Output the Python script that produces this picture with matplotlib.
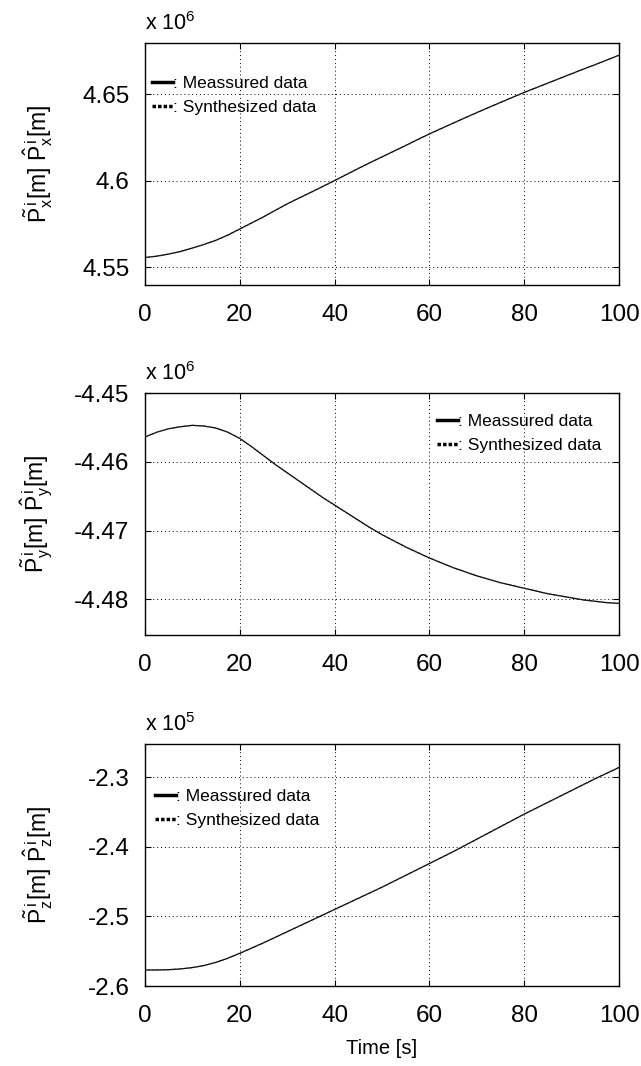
import numpy as np
import matplotlib
matplotlib.use("Agg")
import matplotlib.pyplot as plt
from matplotlib.lines import Line2D
from matplotlib.ticker import FuncFormatter

plt.rcParams['font.family'] = ['Liberation Sans', 'DejaVu Sans']
plt.rcParams['mathtext.fontset'] = 'custom'
plt.rcParams['mathtext.rm'] = 'Liberation Sans'
plt.rcParams['mathtext.it'] = 'Liberation Sans'
plt.rcParams['mathtext.default'] = 'regular'
plt.rcParams['axes.unicode_minus'] = False

# ---- data (values in units of the shown multiplier) ----
time_s = [0, 2.5, 5, 7.5, 10, 12.5, 15, 17.5, 20, 22.5, 25, 27.5, 30, 32.5, 35, 37.5, 40,
          42.5, 45, 47.5, 50, 52.5, 55, 57.5, 60, 62.5, 65, 67.5, 70, 72.5, 75, 77.5, 80,
          82.5, 85, 87.5, 90, 92.5, 95, 97.5, 100]

px_measured = [4.5555, 4.5563, 4.5575, 4.5590, 4.5610, 4.5631, 4.5655, 4.5685, 4.5720, 4.5755,
               4.5790, 4.5828, 4.5865, 4.5899, 4.5932, 4.5966, 4.6000, 4.6035, 4.6070, 4.6104,
               4.6137, 4.6170, 4.6203, 4.6237, 4.6270, 4.6301, 4.6332, 4.6363, 4.6393, 4.6423,
               4.6452, 4.6481, 4.6510, 4.6537, 4.6564, 4.6591, 4.6618, 4.6645, 4.6671, 4.6698, 4.6725]
px_synth = list(px_measured)

py_measured = [-4.4564, -4.4557, -4.4552, -4.4549, -4.4547, -4.4548, -4.4551, -4.4557, -4.4566, -4.4578,
               -4.4591, -4.4604, -4.4616, -4.4628, -4.4640, -4.4652, -4.4663, -4.4674, -4.4685, -4.4696,
               -4.4706, -4.4715, -4.4724, -4.4732, -4.4740, -4.4747, -4.4754, -4.4760, -4.4766, -4.4771,
               -4.4776, -4.4780, -4.4784, -4.4788, -4.4792, -4.4795, -4.4798, -4.4801, -4.4803, -4.4805, -4.4806]
py_synth = list(py_measured)

pz_measured = [-2.5770, -2.5769, -2.5765, -2.5754, -2.5735, -2.5705, -2.5660, -2.5600, -2.5530, -2.5455,
               -2.5380, -2.5300, -2.5220, -2.5140, -2.5060, -2.4980, -2.4900, -2.4820, -2.4740, -2.4660,
               -2.4580, -2.4495, -2.4410, -2.4325, -2.4240, -2.4155, -2.4070, -2.3980, -2.3890, -2.3800,
               -2.3710, -2.3620, -2.3530, -2.3445, -2.3360, -2.3275, -2.3190, -2.3105, -2.3020, -2.2940, -2.2860]
pz_synth = list(pz_measured)

exponents = [6, 6, 5]
yticks_list = [[4.55, 4.6, 4.65], [-4.48, -4.47, -4.46, -4.45], [-2.6, -2.5, -2.4, -2.3]]
ylims = [(4.5396, 4.6795), (-4.4852, -4.45), (-2.6, -2.2525)]
xticks = [0, 20, 40, 60, 80, 100]
ylabels = [r'$\tilde{P}^{\,i}_{x}$[m] $\hat{P}^{\,i}_{x}$[m]',
           r'$\tilde{P}^{\,i}_{y}$[m] $\hat{P}^{\,i}_{y}$[m]',
           r'$\tilde{P}^{\,i}_{z}$[m] $\hat{P}^{\,i}_{z}$[m]']
legend_labels = [': Meassured data', ': Synthesized data']
xlabel = 'Time [s]'

series = [(px_measured, px_synth), (py_measured, py_synth), (pz_measured, pz_synth)]

fig = plt.figure(figsize=(6.41, 10.66), dpi=100)
left, width, height = 0.226, 0.740, 0.227
bottoms = [0.7326, 0.4043, 0.0750]
legend_anchor = [(0.005, 0.885), (0.605, 0.935), (0.01, 0.837)]

fmt = FuncFormatter(lambda v, p: ('%g' % round(v, 4)))

for i, (meas, syn) in enumerate(series):
    ax = fig.add_axes([left, bottoms[i], width, height])
    ax.plot(time_s, meas, color='black', lw=0.9, solid_capstyle='butt')
    ax.plot(time_s, syn, color='#333333', lw=0.9, ls=(0, (1, 2)))
    ax.set_xlim(0, 100)
    ax.set_ylim(*ylims[i])
    ax.set_xticks(xticks)
    ax.set_yticks(yticks_list[i])
    ax.yaxis.set_major_formatter(fmt)
    ax.tick_params(direction='in', top=True, right=True, length=4, width=0.8,
                   labelsize=17.5, colors='black')
    ax.tick_params(axis='y', pad=11)
    ax.tick_params(axis='x', pad=14)
    ax.grid(True, color='black', ls=(0, (1, 3)), lw=0.7)
    for s in ax.spines.values():
        s.set_linewidth(1.0)
        s.set_color('black')
    ax.text(0.0, 1.035, r'x 10$^{%d}$' % exponents[i], transform=ax.transAxes,
            fontsize=15.5, ha='left', va='bottom')
    ax.set_ylabel(ylabels[i], fontsize=16.5)
    ax.yaxis.set_label_coords(-0.19, 0.5)
    handles = [Line2D([], [], color='black', lw=2.5),
               Line2D([], [], color='black', lw=2.5, ls=(0, (1, 0.6)))]
    ax.legend(handles, legend_labels, loc='upper left', bbox_to_anchor=legend_anchor[i],
              frameon=False, fontsize=12.5, handlelength=1.2, handletextpad=0.0,
              labelspacing=0.5, borderaxespad=0, borderpad=0.3)
    if i == 2:
        ax.set_xlabel(xlabel, fontsize=14.5, labelpad=8)

fig.savefig('out.png', dpi=100)
